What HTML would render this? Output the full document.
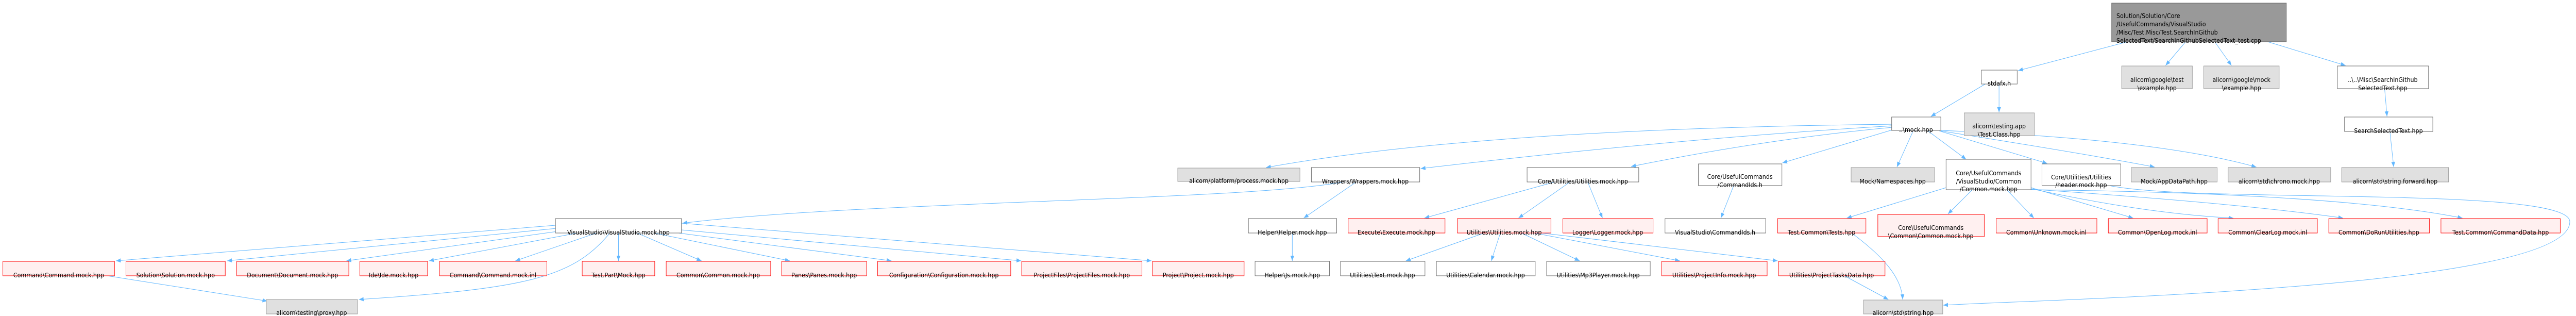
<!DOCTYPE html>
<html><head><meta charset="utf-8"><meta name="viewport" content="width=5398"><style>
html,body{margin:0;padding:0;background:#fff;overflow:hidden;}
svg{display:block;width:100vw;height:100vh;}
text{font-family:"DejaVu Sans","Liberation Sans",sans-serif;font-size:12px;fill:#000;}
.w{fill:#fff;stroke:#666;stroke-width:1;}
.g{fill:#e0e0e0;stroke:#999;stroke-width:1;}
.r{fill:#fff0f0;stroke:#ff0000;stroke-width:1;}
.m{fill:#999;stroke:#666;stroke-width:1;}
.e{fill:none;stroke:#63b8ff;stroke-width:1;}
</style></head><body>
<svg viewBox="0 0 5398 613" preserveAspectRatio="none" xmlns="http://www.w3.org/2000/svg" overflow="hidden">
<defs><marker id="a" viewBox="0 0 10 10" refX="10" refY="5" markerWidth="10" markerHeight="10" markerUnits="userSpaceOnUse" orient="auto"><path d="M0,1 L10,5 L0,9 z" fill="#63b8ff"/></marker></defs>
<g marker-end="url(#a)">
<path class="e" d="M4458,81 L4229,137"/>
<path class="e" d="M4580,81 L4538,127"/>
<path class="e" d="M4641,81 L4676,127"/>
<path class="e" d="M4752,81 L4915,127"/>
<path class="e" d="M4160,163 L4046,226"/>
<path class="e" d="M4189,163 L4189,218"/>
<path class="e" d="M4997,172 L5002,226"/>
<path class="e" d="M5008,255 L5016,324"/>
<path class="e" d="M4008,256 L3975,324"/>
<path class="e" d="M4040,254 L4120,309"/>
<path class="e" d="M4064,254 L4290,317"/>
<path class="e" d="M4067,254 Q4380,300 4515,324"/>
<path class="e" d="M4067,253 Q4520,270 4728,324"/>
<path class="e" d="M3965,252 L3735,316"/>
<path class="e" d="M3965,247 Q3700,270 3418,323"/>
<path class="e" d="M3965,244 Q3500,270 2977,327"/>
<path class="e" d="M3965,241 Q3100,250 2653,325"/>
<path class="e" d="M2815,353 C2600,390 1800,390 1430,433"/>
<path class="e" d="M2842,353 L2732,423"/>
<path class="e" d="M2708,452 L2708,506"/>
<path class="e" d="M3258,353 L2985,423"/>
<path class="e" d="M3290,353 L3182,423"/>
<path class="e" d="M3327,353 L3358,423"/>
<path class="e" d="M3633,360 L3606,423"/>
<path class="e" d="M3110,452 L2946,506"/>
<path class="e" d="M3144,452 L3125,506"/>
<path class="e" d="M3188,452 L3310,506"/>
<path class="e" d="M3215,452 L3520,506"/>
<path class="e" d="M3230,452 L3725,506"/>
<path class="e" d="M3865,535 L3957,581"/>
<path class="e" d="M3880,452 C3950,500 3985,540 3987,581"/>
<path class="e" d="M4078,364 L3870,423"/>
<path class="e" d="M4133,368 L4082,415"/>
<path class="e" d="M4205,368 L4262,423"/>
<path class="e" d="M4256,364 L4470,423"/>
<path class="e" d="M4256,366 Q4500,415 4680,423"/>
<path class="e" d="M4256,367 Q4700,395 4910,423"/>
<path class="e" d="M4256,368 Q4900,375 5160,423"/>
<path class="e" d="M4420,360 C4600,395 5385,360 5385,430 C5385,560 4300,580 4072,592"/>
<path class="e" d="M1164,437 L243,506"/>
<path class="e" d="M1166,443 L476,506"/>
<path class="e" d="M1175,448 L726,506"/>
<path class="e" d="M1210,452 L899,506"/>
<path class="e" d="M1250,452 L1080,506"/>
<path class="e" d="M1278,452 C1200,540 1100,560 752,581"/>
<path class="e" d="M1296,452 L1296,506"/>
<path class="e" d="M1335,452 L1470,506"/>
<path class="e" d="M1370,452 L1655,506"/>
<path class="e" d="M1405,450 L1868,506"/>
<path class="e" d="M1428,446 L2140,506"/>
<path class="e" d="M1428,433 L2413,506"/>
<path class="e" d="M225,535 L560,584"/>
</g>
<rect class="m" x="4425" y="6" width="366" height="75"/>
<text x="4435" y="35">Solution/Solution/Core</text>
<text x="4435" y="51">/UsefulCommands/VisualStudio</text>
<text x="4435" y="67">/Misc/Test.Misc/Test.SearchInGithub</text>
<text x="4435" y="83">SelectedText/SearchInGithubSelectedText_test.cpp</text>

<g text-anchor="middle">
<rect class="w" x="4152" y="136" width="75" height="27"/><text x="4189.5" y="166">stdafx.h</text>
<rect class="g" x="4446" y="128" width="148" height="44"/><text x="4520" y="159">alicorn\google\test</text><text x="4520" y="175">\example.hpp</text>
<rect class="g" x="4618" y="128" width="158" height="44"/><text x="4697" y="159">alicorn\google\mock</text><text x="4697" y="175">\example.hpp</text>
<rect class="w" x="4898" y="128" width="191" height="44"/><text x="4993" y="159">..\..\Misc\SearchInGithub</text><text x="4993" y="175">SelectedText.hpp</text>
<rect class="g" x="4116" y="219" width="147" height="44"/><text x="4189" y="249">alicorn\testing.app</text><text x="4189" y="265">\Test.Class.hpp</text>
<rect class="w" x="3964" y="227" width="103" height="26"/><text x="4015" y="256">..\mock.hpp</text>
<rect class="w" x="4913" y="227" width="185" height="28"/><text x="5005" y="258">SearchSelectedText.hpp</text>

<rect class="g" x="2468" y="326" width="256" height="26"/><text x="2596" y="355">alicorn/platform/process.mock.hpp</text>
<rect class="w" x="2748" y="325" width="227" height="28"/><text x="2861" y="356">Wrappers/Wrappers.mock.hpp</text>
<rect class="w" x="3200" y="325" width="234" height="28"/><text x="3317" y="356">Core/Utilities/Utilities.mock.hpp</text>
<rect class="w" x="3559" y="318" width="175" height="42"/><text x="3646" y="347">Core/UsefulCommands</text><text x="3646" y="363">/CommandIds.h</text>
<rect class="g" x="3879" y="325" width="175" height="28"/><text x="3966" y="356">Mock/Namespaces.hpp</text>
<rect class="w" x="4078" y="309" width="178" height="59"/><text x="4167" y="340">Core/UsefulCommands</text><text x="4167" y="356">/VisualStudio/Common</text><text x="4167" y="371">/Common.mock.hpp</text>
<rect class="w" x="4279" y="318" width="165" height="42"/><text x="4361" y="348">Core/Utilities/Utilities</text><text x="4361" y="363">/header.mock.hpp</text>
<rect class="g" x="4466" y="325" width="180" height="28"/><text x="4556" y="356">Mock/AppDataPath.hpp</text>
<rect class="g" x="4669" y="325" width="215" height="28"/><text x="4776" y="356">alicorn\std\chrono.mock.hpp</text>
<rect class="g" x="4907" y="325" width="224" height="28"/><text x="5019" y="356">alicorn\std\string.forward.hpp</text>

<rect class="w" x="1164" y="424" width="264" height="28"/><text x="1296" y="455">VisualStudio\VisualStudio.mock.hpp</text>
<rect class="w" x="2616" y="424" width="185" height="28"/><text x="2708" y="455">Helper\Helper.mock.hpp</text>
<rect class="r" x="2825" y="424" width="203" height="28"/><text x="2926" y="455">Execute\Execute.mock.hpp</text>
<rect class="r" x="3054" y="424" width="196" height="28"/><text x="3152" y="455">Utilities\Utilities.mock.hpp</text>
<rect class="r" x="3275" y="424" width="189" height="28"/><text x="3369" y="455">Logger\Logger.mock.hpp</text>
<rect class="w" x="3489" y="424" width="211" height="28"/><text x="3594" y="455">VisualStudio\CommandIds.h</text>
<rect class="r" x="3725" y="424" width="185" height="28"/><text x="3817" y="455">Test.Common\Tests.hpp</text>
<rect class="r" x="3935" y="416" width="223" height="43"/><text x="4046" y="446">Core\UsefulCommands</text><text x="4046" y="462">\Common\Common.mock.hpp</text>
<rect class="r" x="4183" y="424" width="211" height="28"/><text x="4288" y="455">Common\Unknown.mock.inl</text>
<rect class="r" x="4418" y="424" width="207" height="28"/><text x="4521" y="455">Common\OpenLog.mock.inl</text>
<rect class="r" x="4648" y="424" width="208" height="28"/><text x="4752" y="455">Common\ClearLog.mock.inl</text>
<rect class="r" x="4880" y="424" width="211" height="28"/><text x="4985" y="455">Common\DoRunUtilities.hpp</text>
<rect class="r" x="5115" y="424" width="250" height="28"/><text x="5240" y="455">Test.Common\CommandData.hpp</text>

<rect class="r" x="6" y="507" width="234" height="28"/><text x="123" y="538">Command\Command.mock.hpp</text>
<rect class="r" x="264" y="507" width="208" height="28"/><text x="368" y="538">Solution\Solution.mock.hpp</text>
<rect class="r" x="496" y="507" width="235" height="28"/><text x="613" y="538">Document\Document.mock.hpp</text>
<rect class="r" x="754" y="507" width="142" height="28"/><text x="825" y="538">Ide\Ide.mock.hpp</text>
<rect class="r" x="921" y="507" width="225" height="28"/><text x="1033" y="538">Command\Command.mock.inl</text>
<rect class="r" x="1220" y="507" width="152" height="28"/><text x="1296" y="538">Test.Part\Mock.hpp</text>
<rect class="r" x="1396" y="507" width="219" height="28"/><text x="1505" y="538">Common\Common.mock.hpp</text>
<rect class="r" x="1638" y="507" width="178" height="28"/><text x="1727" y="538">Panes\Panes.mock.hpp</text>
<rect class="r" x="1839" y="507" width="279" height="28"/><text x="1978" y="538">Configuration\Configuration.mock.hpp</text>
<rect class="r" x="2141" y="507" width="252" height="28"/><text x="2267" y="538">ProjectFiles\ProjectFiles.mock.hpp</text>
<rect class="r" x="2415" y="507" width="192" height="28"/><text x="2511" y="538">Project\Project.mock.hpp</text>
<rect class="w" x="2630" y="507" width="156" height="28"/><text x="2708" y="538">Helper\Js.mock.hpp</text>
<rect class="w" x="2809" y="507" width="177" height="28"/><text x="2897" y="538">Utilities\Text.mock.hpp</text>
<rect class="w" x="3010" y="507" width="207" height="28"/><text x="3113" y="538">Utilities\Calendar.mock.hpp</text>
<rect class="w" x="3241" y="507" width="217" height="28"/><text x="3349" y="538">Utilities\Mp3Player.mock.hpp</text>
<rect class="r" x="3482" y="507" width="221" height="28"/><text x="3592" y="538">Utilities\ProjectInfo.mock.hpp</text>
<rect class="r" x="3727" y="507" width="223" height="28"/><text x="3838" y="538">Utilities\ProjectTasksData.hpp</text>

<rect class="g" x="558" y="581" width="191" height="28"/><text x="653" y="611">alicorn\testing\proxy.hpp</text>
<rect class="g" x="3905" y="582" width="166" height="27"/><text x="3988" y="611">alicorn\std\string.hpp</text>
</g>
</svg>
</body></html>
